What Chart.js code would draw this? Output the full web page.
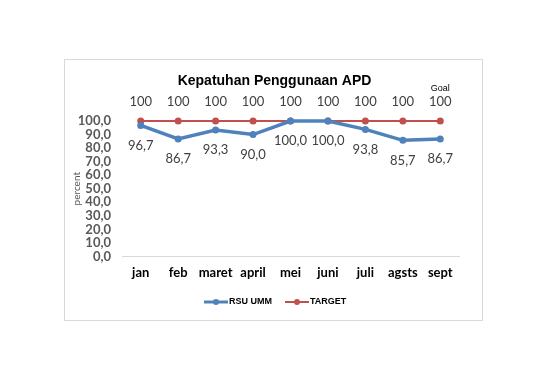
<!DOCTYPE html>
<html>
<head>
<meta charset="utf-8">
<script src="https://cdn.jsdelivr.net/npm/chart.js@4"></script>
<style>
  body { margin: 0; background: #fff; }
  #box { position: absolute; left: 64px; top: 59px; width: 419px; height: 262px; border: 1px solid #d9d9d9; box-sizing: border-box; }
  canvas { display: block; }
</style>
</head>
<body>
<div id="box"><canvas id="chart" width="417" height="260"></canvas></div>
<script>
// chart data
const months = ["jan", "feb", "maret", "april", "mei", "juni", "juli", "agsts", "sept"];
const rsuUmm = [96.7, 86.7, 93.3, 90.0, 100.0, 100.0, 93.8, 85.7, 86.7];
const target = [100, 100, 100, 100, 100, 100, 100, 100, 100];
const blue = "#4f81bd";
const red = "#c0504d";

// title centred on the whole box
const boxTitle = {
    id: "boxTitle",
    afterDraw(chart) {
        const ctx = chart.ctx;
        ctx.save();
        ctx.font = "bold 14px 'Liberation Sans'";
        ctx.fillStyle = "#000";
        ctx.textAlign = "center";
        ctx.textBaseline = "middle";
        ctx.fillText("Kepatuhan Penggunaan APD", chart.width / 2 + 1, 21);
        ctx.restore();
    }
};

// value labels: blue under the points, red above
const valueLabels = {
    id: "valueLabels",
    afterDatasetsDraw(chart) {
        const ctx = chart.ctx;
        ctx.save();
        ctx.font = "13px Lato";
        ctx.fillStyle = "#404040";
        ctx.textAlign = "center";
        ctx.textBaseline = "middle";
        chart.getDatasetMeta(0).data.forEach((pt, i) => {
            ctx.fillText(rsuUmm[i].toFixed(1).replace(".", ","), pt.x, pt.y + 20);
        });
        chart.getDatasetMeta(1).data.forEach((pt, i) => {
            ctx.fillText(String(target[i]), pt.x, pt.y - 19);
        });
        const last = chart.getDatasetMeta(1).data[target.length - 1];
        ctx.font = "9px 'Liberation Sans'";
        ctx.fillStyle = "#000";
        ctx.fillText("Goal", last.x, last.y - 32);
        ctx.restore();
    }
};

// legend drawn as line + marker
const lineLegend = {
    id: "lineLegend",
    afterDraw(chart) {
        const ctx = chart.ctx;
        const items = [["RSU UMM", blue, 3], ["TARGET", red, 2]];
        const y = 242;
        ctx.save();
        ctx.font = "bold 9px 'Liberation Sans'";
        ctx.textBaseline = "middle";
        let x = 139;
        items.forEach(([label, col, w]) => {
            ctx.strokeStyle = col;
            ctx.lineWidth = w;
            ctx.beginPath();
            ctx.moveTo(x, y);
            ctx.lineTo(x + 24, y);
            ctx.stroke();
            ctx.fillStyle = col;
            ctx.beginPath();
            ctx.arc(x + 12, y, 3, 0, Math.PI * 2);
            ctx.fill();
            ctx.fillStyle = "#000";
            ctx.fillText(label, x + 25, y);
            x += 25 + ctx.measureText(label).width + 13;
        });
        ctx.restore();
    }
};

new Chart(document.getElementById("chart"), {
    type: "line",
    data: {
        labels: months,
        datasets: [
            { label: "RSU UMM", data: rsuUmm, borderColor: blue, backgroundColor: blue, borderWidth: 3.5, pointRadius: 3.5, pointBorderWidth: 0, pointHoverRadius: 3.5 },
            { label: "TARGET", data: target, borderColor: red, backgroundColor: red, borderWidth: 1.8, pointRadius: 3.5, pointBorderWidth: 0, pointHoverRadius: 3.5 }
        ]
    },
    options: {
        responsive: false,
        animation: false,
        clip: false,
        layout: { padding: { left: 6, right: 23, top: 61, bottom: 30 } },
        plugins: {
            legend: { display: false },
            tooltip: { enabled: false },
            title: { display: false }
        },
        scales: {
            x: {
                offset: true,
                grid: { display: false, drawTicks: false },
                border: { color: "#d9d9d9", width: 1 },
                ticks: { color: "#000", font: { family: "Lato", size: 13, weight: "bold" }, padding: 9, maxRotation: 0 }
            },
            y: {
                min: 0,
                max: 100,
                grid: { display: false, drawTicks: false },
                border: { display: false },
                afterFit(scale) { scale.width = 51; },
                ticks: {
                    stepSize: 10,
                    autoSkip: false,
                    color: "#595959",
                    padding: 11,
                    font: { family: "Lato", size: 13, weight: "bold" },
                    callback: v => v.toFixed(1).replace(".", ",")
                },
                title: { display: true, text: "percent", color: "#595959", font: { family: "Lato", size: 10 }, padding: 0 }
            }
        }
    },
    plugins: [valueLabels, lineLegend, boxTitle]
});
</script>
</body>
</html>
